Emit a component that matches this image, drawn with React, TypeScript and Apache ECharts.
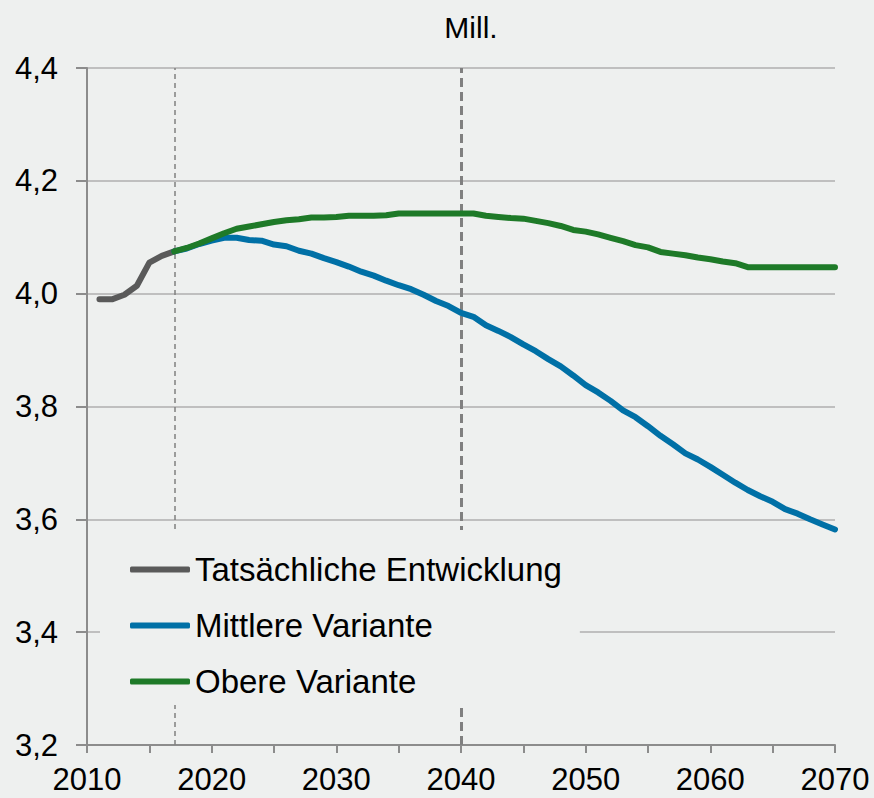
import React, { useEffect, useRef } from "react";
import * as echarts from "echarts";

const actualYears = [2011, 2012, 2013, 2014, 2015, 2016, 2017];
const actualValues = [3.99, 3.99, 3.998, 4.014, 4.055, 4.067, 4.075];

const projYears = [
  2017, 2018, 2019, 2020, 2021, 2022, 2023, 2024, 2025, 2026, 2027, 2028, 2029,
  2030, 2031, 2032, 2033, 2034, 2035, 2036, 2037, 2038, 2039, 2040, 2041, 2042,
  2043, 2044, 2045, 2046, 2047, 2048, 2049, 2050, 2051, 2052, 2053, 2054, 2055,
  2056, 2057, 2058, 2059, 2060, 2061, 2062, 2063, 2064, 2065, 2066, 2067, 2068,
  2069, 2070,
];

const middleValues = [
  4.075, 4.08, 4.088, 4.094, 4.099, 4.099, 4.095, 4.094, 4.087, 4.084, 4.076,
  4.071, 4.063, 4.056, 4.048, 4.039, 4.032, 4.023, 4.015, 4.008, 3.998, 3.987,
  3.978, 3.966, 3.959, 3.944, 3.934, 3.923, 3.91, 3.898, 3.884, 3.871, 3.855,
  3.838, 3.825, 3.81, 3.793, 3.781, 3.765, 3.748, 3.733, 3.717, 3.706, 3.693,
  3.679, 3.665, 3.652, 3.641, 3.631, 3.618, 3.61, 3.6, 3.591, 3.582,
];

const upperValues = [
  4.075, 4.081, 4.089, 4.098, 4.107, 4.115, 4.119, 4.123, 4.127, 4.13, 4.132,
  4.135, 4.135, 4.136, 4.138, 4.138, 4.138, 4.139, 4.142, 4.142, 4.142, 4.142,
  4.142, 4.142, 4.142, 4.138, 4.136, 4.134, 4.133, 4.129, 4.125, 4.12, 4.113,
  4.11, 4.105, 4.099, 4.093, 4.086, 4.082, 4.074, 4.071, 4.068, 4.064, 4.061,
  4.057, 4.054, 4.047, 4.047, 4.047, 4.047, 4.047, 4.047, 4.047, 4.047,
];

const seriesNames = ["Tatsächliche Entwicklung", "Mittlere Variante", "Obere Variante"];
const markerYears = [2017, 2040];
const unitLabel = "Mill.";

const FONT = "'Liberation Sans', Arial, sans-serif";

export default function App() {
  const ref = useRef<HTMLDivElement>(null);

  useEffect(() => {
    if (!ref.current) return;
    const chart = echarts.init(ref.current, null, { renderer: "svg" });
    const zip = (xs: number[], ys: number[]) => xs.map((x, i) => [x, ys[i]]);
    chart.setOption({
      animation: false,
      backgroundColor: "#eef0ef",
      textStyle: { fontFamily: FONT },
      grid: { left: 87, right: 39, top: 68, bottom: 53, containLabel: false },
      graphic: [
        {
          type: "text",
          x: 471,
          y: 27,
          style: {
            text: unitLabel,
            fontSize: 30,
            fontFamily: FONT,
            fill: "#000",
            textAlign: "center",
            textVerticalAlign: "middle",
          },
        },
      ],
      legend: {
        data: seriesNames,
        orient: "vertical",
        left: 100,
        top: 530,
        z: 20,
        zlevel: 0,
        padding: [22, 18, 6, 30],
        backgroundColor: "#eef0ef",
        itemWidth: 60,
        itemHeight: 6,
        itemGap: 21,
        icon: "roundRect",
        textStyle: { fontSize: 33, fontFamily: FONT, color: "#000", lineHeight: 35 },
        selectedMode: false,
      },
      xAxis: {
        type: "value",
        min: 2010,
        max: 2070,
        interval: 5,
        axisLine: { show: true, lineStyle: { color: "#8c8c8c", width: 2 } },
        axisTick: { show: true, length: 8, lineStyle: { color: "#8c8c8c", width: 2 } },
        axisLabel: {
          margin: 19,
          fontSize: 31,
          fontFamily: FONT,
          color: "#000",
          formatter: (v: number) => (v % 10 === 0 ? String(v) : ""),
        },
        splitLine: { show: false },
      },
      yAxis: {
        type: "value",
        min: 3.2,
        max: 4.4,
        interval: 0.2,
        axisLine: { show: true, lineStyle: { color: "#8c8c8c", width: 2 } },
        axisTick: { show: true, length: 11, lineStyle: { color: "#8c8c8c", width: 2 } },
        axisLabel: {
          margin: 29,
          fontSize: 31,
          fontFamily: FONT,
          color: "#000",
          formatter: (v: number) => v.toFixed(1).replace(".", ","),
        },
        splitLine: { show: true, lineStyle: { color: "#bfbfbf", width: 2 } },
      },
      series: [
        {
          name: seriesNames[0],
          type: "line",
          data: zip(actualYears, actualValues),
          showSymbol: false,
          symbol: "none",
          color: "#5a5a5a",
          lineStyle: { width: 6, color: "#5a5a5a", cap: "round", join: "round" },
        },
        {
          name: seriesNames[1],
          type: "line",
          data: zip(projYears, middleValues),
          showSymbol: false,
          symbol: "none",
          color: "#0070a6",
          lineStyle: { width: 6, color: "#0070a6", cap: "round", join: "round" },
        },
        {
          name: seriesNames[2],
          type: "line",
          data: zip(projYears, upperValues),
          showSymbol: false,
          symbol: "none",
          color: "#1e7a28",
          lineStyle: { width: 6, color: "#1e7a28", cap: "round", join: "round" },
          markLine: {
            silent: true,
            symbol: "none",
            z: 3,
            label: { show: false },
            data: [
              {
                xAxis: markerYears[0],
                lineStyle: { color: "#808080", width: 1.5, type: [5, 4] },
              },
              {
                xAxis: markerYears[1],
                lineStyle: { color: "#808080", width: 3, type: [9, 5] },
              },
            ],
          },
        },
      ],
    });
    return () => chart.dispose();
  }, []);

  return (
    <div
      ref={ref}
      style={{ position: "fixed", left: 0, top: 0, width: 874, height: 798 }}
    />
  );
}
